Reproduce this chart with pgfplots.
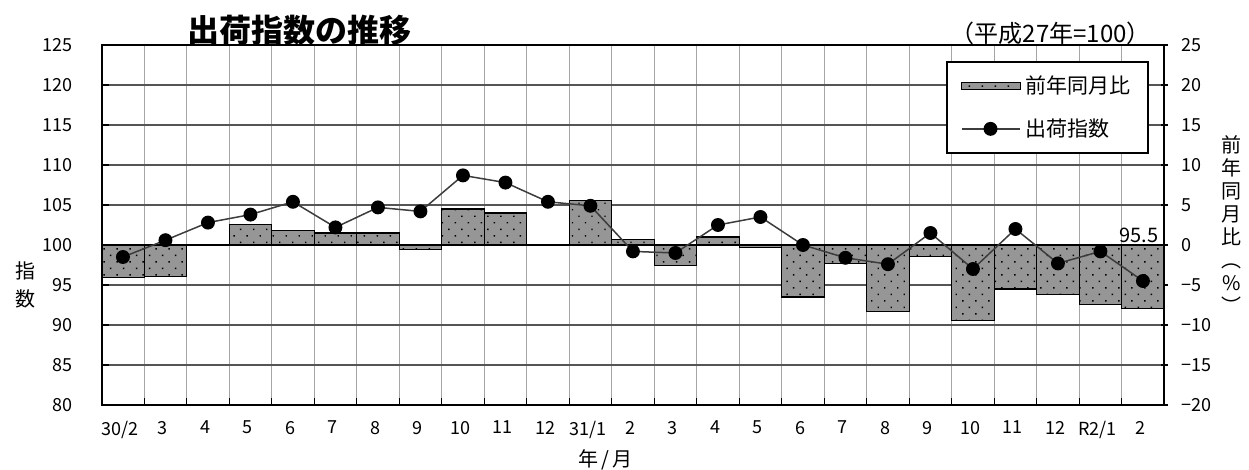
\documentclass[border=0pt]{standalone}
\usepackage{pgfplots}
\pgfplotsset{compat=1.18}
\usepackage{pgfplotstable}
\usepackage{fontspec}
\setmainfont{Noto Sans CJK JP}
\usetikzlibrary{patterns.meta}

\definecolor{barg}{RGB}{150,150,150}
\definecolor{hgrid}{RGB}{85,85,85}
\definecolor{vgrid}{RGB}{165,165,165}
\definecolor{linec}{RGB}{60,60,60}

% idx: month position, yoy: change on same month of previous year (%), ship: shipment index
\pgfplotstableread{
idx yoy ship
0 -4.1 98.5
1 -3.9 100.6
2 0.1 102.8
3 2.6 103.8
4 1.8 105.4
5 1.5 102.2
6 1.5 104.7
7 -0.6 104.2
8 4.5 108.7
9 4.0 107.8
10 0.1 105.4
11 5.6 104.9
12 0.7 99.2
13 -2.6 99.0
14 1.0 102.5
15 -0.3 103.5
16 -6.5 100.0
17 -2.3 98.4
18 -8.3 97.6
19 -1.4 101.5
20 -9.4 97.0
21 -5.5 102.0
22 -6.2 97.7
23 -7.4 99.2
24 -7.9 95.5
}\shipdata

\tikzset{dotfill/.style={fill=barg, draw=black, line width=0.6pt,
  postaction={pattern={Dots[distance=4.6pt,radius=0.5pt,angle=45]}, pattern color=black}}}

\pgfplotsset{
  base/.style={
    scale only axis, width=531.25pt, height=180pt,
    at={(0pt,0pt)}, anchor=south west,
    xmin=-0.5, xmax=24.5,
    axis line style={black, line width=1pt},
    tick style={black, line width=0.6pt},
    major tick length=3.5pt,
    tick label style={font=\fontsize{9}{10}\selectfont},
  }
}

\begin{document}
\begin{tikzpicture}
\path[use as bounding box] (-50.85pt,-32.5pt) rectangle (573.65pt,202.5pt);

% bars: change on previous year, right-hand scale
\begin{axis}[base,
  ymin=-20, ymax=25, ytick={-20,-15,...,25},
  yticklabels={−20,−15,−10,−5,0,5,10,15,20,25},
  ytick pos=right, yticklabel pos=right,
  yticklabel style={anchor=west, xshift=3.5pt},
  xtick={0.5,1.5,...,24.5},
  xticklabels={30/2,3,4,5,6,7,8,9,10,11,12,31/1,2,3,4,5,6,7,8,9,10,11,12,R2/1,2},
  xtick pos=bottom,
  xticklabel style={xshift=-12pt, yshift=-4.5pt},
  xmajorgrids, ymajorgrids,
  every axis x grid/.style={vgrid, line width=0.5pt},
  every axis y grid/.style={hgrid, line width=0.6pt},
  xtick align=inside, ytick align=center,
]
\addplot[ybar, bar width=1, dotfill] table[x=idx, y=yoy]{\shipdata};
\end{axis}

% line: shipment index, left-hand scale
\begin{axis}[base,
  ymin=80, ymax=125, ytick={80,85,...,125},
  yticklabels={80,85,90,95,100,105,110,115,120,125},
  ytick pos=left, ytick align=inside,
  yticklabel style={xshift=-11.3pt},
  xtick=\empty,
  legend cell align=left,
  legend style={at={(axis description cs:0.7946,0.9556)}, anchor=north west,
    draw=black, line width=0.8pt, fill=white,
    inner xsep=7pt, inner ysep=5pt, row sep=7pt,
    font=\fontsize{10.5}{12}\selectfont},
]
\addlegendimage{legend image code/.code={
  \draw[dotfill] (0pt,-1.75pt) rectangle (29.5pt,1.75pt);}}
\addlegendentry{前年同月比}
\addplot[linec, line width=0.75pt, mark=*, mark size=3.1pt,
  mark options={fill=black, draw=black, solid},
  legend image code/.code={
    \draw[linec, line width=0.75pt] (0pt,0pt) -- (29pt,0pt);
    \fill[black] (14.5pt,0pt) circle (3.1pt);}]
  table[x=idx, y=ship]{\shipdata};
\addlegendentry{出荷指数}
\node[anchor=south, inner sep=1pt, xshift=-2pt, font=\fontsize{10}{12}\selectfont]
  at (axis cs:24,100) {95.5};
\end{axis}

\node[font=\fontsize{16}{19}\selectfont\bfseries] at (99pt,187.5pt) {出荷指数の推移};
\node[anchor=east, font=\fontsize{12}{14}\selectfont] at (528pt,186pt) {（平成27年=100）};
\node[font=\fontsize{10}{13.75}\selectfont, align=center] at (-37.9pt,60pt) {指\\数};
\node[font=\fontsize{10}{11.5}\selectfont, align=center] at (565pt,90pt)
  {前\\年\\同\\月\\比\\︵\\\%\\︶};
\node[font=\fontsize{10}{12}\selectfont] at (252pt,-27.5pt) {年\,/\,月};
\end{tikzpicture}
\end{document}
